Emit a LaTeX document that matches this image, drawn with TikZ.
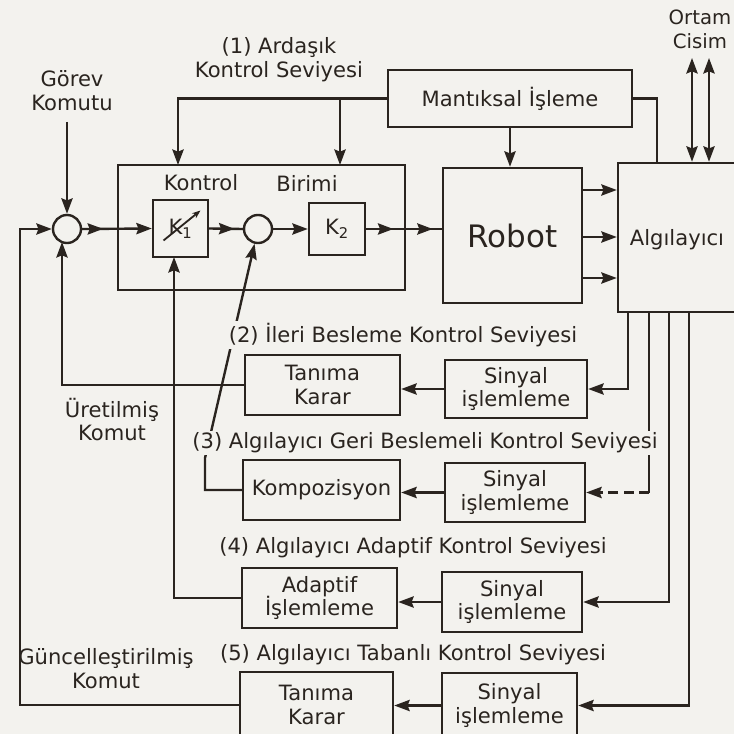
\documentclass[tikz,border=0pt]{standalone}
\usepackage{fontspec}
\setmainfont{DejaVu Sans}
\usetikzlibrary{arrows.meta,decorations.markings,calc}
\definecolor{ink}{HTML}{2A241F}
\definecolor{paper}{HTML}{F3F2EE}
\newcommand{\fsmain}{\fontsize{15}{17}\selectfont}
\newcommand{\fsbig}{\fontsize{22}{26}\selectfont}
\begin{document}
\begin{tikzpicture}[x=0.025cm,y=-0.025cm,color=ink,line width=1.7pt,
  box/.style={draw,rectangle,inner sep=0pt,align=center,font=\fsmain},
  sumc/.style={draw,circle,minimum size=0.7cm,inner sep=0pt},
  txt/.style={inner sep=0pt,align=center,font=\fsmain},
  lab/.style={inner sep=1.5pt,fill=paper,font=\fsmain},
  arr/.style={-{Stealth[length=11pt,width=8pt,inset=1.5pt]}},
  dbl/.style={{Stealth[length=11pt,width=8pt,inset=1.5pt]}-{Stealth[length=11pt,width=8pt,inset=1.5pt]}},
  mida/.style={postaction={decorate,decoration={markings,mark=at position #1 with {\arrow{Stealth[length=11pt,width=8pt,inset=1.5pt]}}}}}]
\fill[paper] (0,0) rectangle (734,734);
\useasboundingbox (0,0) rectangle (734,734);

% texts
\node[txt] (gorev) at (72,90.5) {Görev\\Komutu};
\node[txt] (ard) at (279,60) {(1) Ardaşık\\Kontrol Seviyesi};
\node[txt,font=\fontsize{14}{17}\selectfont] (ortam) at (700,29.5) {Ortam\\Cisim};

% boxes
\node[box,minimum width=6.1cm,minimum height=1.425cm] (mant) at (510,98.5) {Mantıksal İşleme};
\node[box,minimum width=7.175cm,minimum height=3.125cm] (cu) at (261.5,227.5) {};
\node[txt] (cut1) at (201,183) {Kontrol};
\node[txt] (cut2) at (307,183) {Birimi};
\node[sumc] (sum1) at (67,229) {};
\node[box,minimum width=1.375cm,minimum height=1.425cm] (K1) at (180.5,228.5) {K\textsubscript{1}};
\node[sumc] (sum2) at (258,229) {};
\node[box,minimum width=1.4cm,minimum height=1.3cm] (K2) at (337,229) {K\textsubscript{2}};
\node[box,minimum width=3.475cm,minimum height=3.375cm,font=\fsbig] (robot) at (512.5,235.5) {Robot};
\node[box,minimum width=3.3cm,minimum height=3.725cm] (alg) at (684,237.5) {};
\node[txt] (algt) at (677,240) {Algılayıcı};

\node[box,minimum width=3.875cm,minimum height=1.5cm] (tk2) at (322.5,385) {Tanıma\\Karar};
\node[box,minimum width=3.55cm,minimum height=1.45cm] (s2) at (516,389) {Sinyal\\işlemleme};
\node[box,minimum width=3.925cm,minimum height=1.5cm] (komp) at (321.5,490) {Kompozisyon};
\node[box,minimum width=3.5cm,minimum height=1.475cm] (s3) at (515,492.5) {Sinyal\\işlemleme};
\node[box,minimum width=3.875cm,minimum height=1.5cm] (adp) at (319.5,598) {Adaptif\\İşlemleme};
\node[box,minimum width=3.5cm,minimum height=1.5cm] (s4) at (512,602) {Sinyal\\işlemleme};
\node[box,minimum width=3.825cm,minimum height=1.65cm] (tk5) at (316.5,705) {Tanıma\\Karar};
\node[box,minimum width=3.375cm,minimum height=1.625cm] (s5) at (509.5,705.5) {Sinyal\\işlemleme};

% K1 variable gain arrow
\draw[-{Stealth[length=6pt,width=4.5pt]},line width=1.3pt] ([shift={(-17,12)}]K1.center) -- ([shift={(20,-18)}]K1.center);

% coordinates
\coordinate (g0) at (67,122);
\coordinate (cL) at (20,229);
\coordinate (s1b) at (62,242);
\coordinate (k1b) at (174,257);
\coordinate (kc) at (205,458);
\coordinate (cu1) at (178,165);
\coordinate (cu2) at (340,165);
\coordinate (ma) at (657,163);
\coordinate (r1) at (582,190);
\coordinate (r2) at (582,237);
\coordinate (r3) at (582,278);
\coordinate (o1) at (692,58);
\coordinate (o2) at (709,58);
\coordinate (a1) at (628,312);
\coordinate (a2) at (649,312);
\coordinate (a3) at (669,312);
\coordinate (a4) at (689,312);

% main loop
\draw[arr] (g0) -- (sum1.north);
\draw[arr] (tk5.west) -| (cL) -- (sum1.west);
\draw[arr] (tk2.west) -| (s1b);
\draw[arr,mida=0.3] (sum1.east) -- (K1.west);
\draw[mida=0.75] (K1.east) -- (sum2.west);
\draw[arr] (sum2.east) -- (K2.west);
\draw[mida=0.36,mida=0.88] (K2.east) -- (K2.east -| robot.west);
\draw[arr] (adp.west) -| (k1b);
\draw[arr] (komp.west) -| (kc) -- (sum2);

% top
\draw[arr] (mant.west) -| (cu1);
\draw[arr] (mant.west -| cu2) -- (cu2);
\draw[arr] (mant.south) -- (mant.south |- robot.north);
\draw (mant.east) -| (ma);
\draw[arr] (r1) -- (r1 -| alg.west);
\draw[arr] (r2) -- (r2 -| alg.west);
\draw[arr] (r3) -- (r3 -| alg.west);
\draw[dbl] (o1) -- (o1 |- alg.north);
\draw[dbl] (o2) -- (o2 |- alg.north);

% sensor outputs
\draw[arr] (a1) |- (s2.east);
\draw (a2) -- (a2 |- s3.east);
\draw[arr,dash pattern=on 7pt off 4pt] (a2 |- s3.east) -- (s3.east);
\draw[arr] (a3) |- (s4.east);
\draw[arr] (a4) |- (s5.east);
\draw[arr] (s2.west) -- (s2.west -| tk2.east);
\draw[arr] (s3.west) -- (s3.west -| komp.east);
\draw[arr] (s4.west) -- (s4.west -| adp.east);
\draw[arr] (s5.west) -- (s5.west -| tk5.east);

% level labels
\node[lab] (l2) at (403,335) {(2) İleri Besleme Kontrol Seviyesi};
\node[lab] (l3) at (425,443) {(3) Algılayıcı Geri Beslemeli Kontrol Seviyesi};
\node[lab] (l4) at (413,548) {(4) Algılayıcı Adaptif Kontrol Seviyesi};
\node[lab] (l5) at (413,655) {(5) Algılayıcı Tabanlı Kontrol Seviyesi};
\node[txt] (uret) at (112,419.5) {Üretilmiş\\Komut};
\node[txt] (gunc) at (106,669) {Güncelleştirilmiş\\Komut};
\end{tikzpicture}
\end{document}
